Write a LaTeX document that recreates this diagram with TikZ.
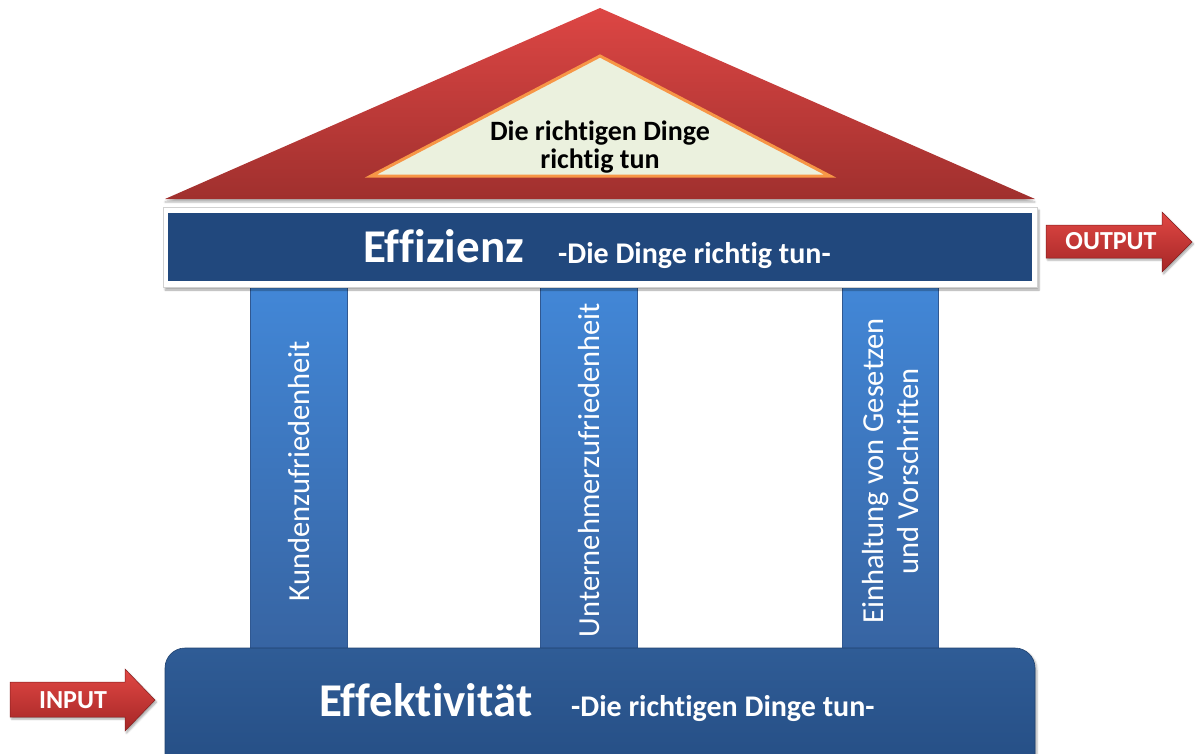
\documentclass[tikz,border=0pt]{standalone}
\usepackage{fontspec}
\setmainfont[Ligatures={NoCommon}]{Carlito}
\usetikzlibrary{shadows.blur}
\definecolor{roofTop}{RGB}{221,70,68}
\definecolor{roofBot}{RGB}{160,48,46}
\definecolor{innerFill}{RGB}{235,241,222}
\definecolor{innerLine}{RGB}{247,150,70}
\definecolor{barBlue}{RGB}{33,72,125}
\definecolor{pilTop}{RGB}{66,135,215}
\definecolor{pilBot}{RGB}{55,100,162}
\definecolor{pilEdge}{RGB}{48,88,145}
\definecolor{baseTop}{RGB}{47,92,150}
\definecolor{baseBot}{RGB}{36,76,130}
\definecolor{arrTop}{RGB}{225,72,68}
\definecolor{arrBot}{RGB}{165,38,38}
\tikzset{
  pillar/.style={top color=pilTop, bottom color=pilBot, draw=pilEdge, line width=0.8pt},
  pillartext/.style={rotate=90, text=white, font=\fontsize{30.5}{35}\selectfont, align=center, inner sep=0pt},
  bigtext/.style={text=white, font=\fontsize{47}{50}\selectfont\bfseries, anchor=base west, inner sep=0pt},
  subtext/.style={text=white, font=\fontsize{30}{34}\selectfont\bfseries, anchor=base west, inner sep=0pt},
  redarrow/.style={top color=arrTop, bottom color=arrBot, draw=arrBot!80!black, line width=0.5pt,
     blur shadow={shadow xshift=1.5pt, shadow yshift=-2pt, shadow blur steps=4, shadow opacity=35}},
  arrowtext/.style={text=white, font=\fontsize{26}{28}\selectfont\bfseries, inner sep=0pt},
}
\begin{document}
\begin{tikzpicture}[x=1pt,y=-1pt]
\useasboundingbox (0,0) rectangle (1200,753);
\clip (0,0) rectangle (1200,753);
% roof
\path[top color=roofTop, bottom color=roofBot,
  blur shadow={shadow xshift=0pt, shadow yshift=-3pt, shadow blur steps=5, shadow opacity=30}]
  (165,199) -- (600,8) -- (1035,199) -- cycle;
\path[fill=innerFill, draw=innerLine, line width=3pt, line join=miter]
  (371,176) -- (600,56) -- (830,176) -- cycle;
\node[font=\fontsize{28}{28}\selectfont\bfseries, align=center, inner sep=0pt] (roof) at (600,147)
  {Die richtigen Dinge\\richtig tun};
% pillars
\path[pillar] (250,286) rectangle (347,650);
\path[pillar] (540,286) rectangle (637,650);
\path[pillar] (842,286) rectangle (938,650);
\node[pillartext] (p1) at (299,471) {Kundenzufriedenheit};
\node[pillartext] (p2) at (589,470) {Unternehmerzufriedenheit};
\node[pillartext] (p3) at (891,471) {Einhaltung von Gesetzen\\und Vorschriften};
% base
\path[top color=baseTop, bottom color=baseBot, rounded corners=20pt, draw=baseBot!85!black, line width=0.6pt,
  blur shadow={shadow xshift=2pt, shadow yshift=-2pt, shadow blur steps=5, shadow opacity=30}]
  (165,648) rectangle (1035,790);
\node[bigtext] (effek) at (319,716) {Effektivität};
\node[subtext] (effeksub) at (571,716) {-Die richtigen Dinge tun-};
% top beam
\path[fill=white, draw=black!18, line width=0.6pt,
  blur shadow={shadow xshift=2pt, shadow yshift=-3pt, shadow blur steps=5, shadow opacity=35}]
  (163,207) rectangle (1037,287);
\path[fill=barBlue] (168,213) rectangle (1032,281);
\node[bigtext] (effiz) at (363,262) {Effizienz};
\node[subtext] (effizsub) at (558,263) {-Die Dinge richtig tun-};
% arrows
\path[redarrow] (10,682) -- (125,682) -- (125,669) -- (155,700) -- (125,731) -- (125,717) -- (10,717) -- cycle;
\node[arrowtext] (input) at (73,700) {INPUT};
\path[redarrow] (1046,225) -- (1162,225) -- (1162,212) -- (1192,242) -- (1162,272) -- (1162,258) -- (1046,258) -- cycle;
\node[arrowtext] (output) at (1111,241) {OUTPUT};
\end{tikzpicture}
\end{document}
